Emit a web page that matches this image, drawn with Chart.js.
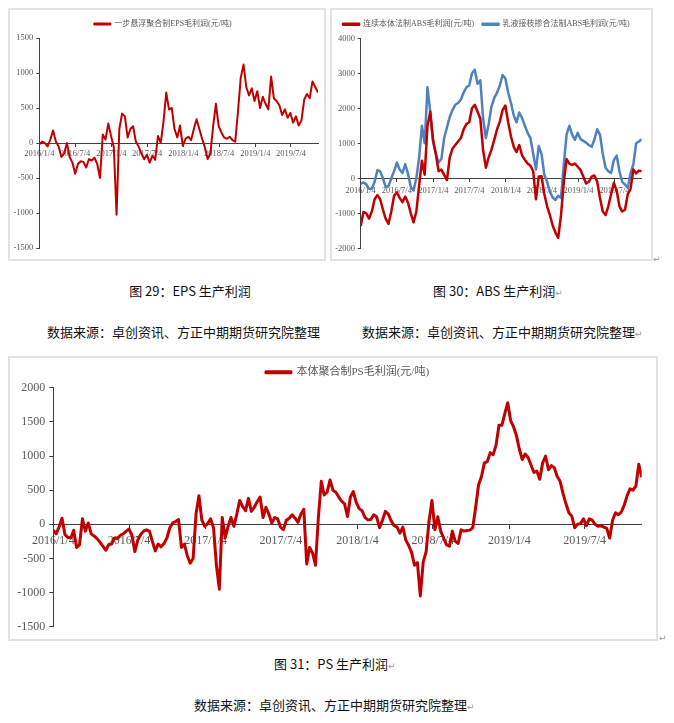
<!DOCTYPE html>
<html lang="zh-CN">
<head>
<meta charset="utf-8">
<title>EPS / ABS / PS 生产利润</title>
<script src="https://cdn.jsdelivr.net/npm/chart.js@4.4.1/dist/chart.umd.min.js"></script>
<style>
  html, body { margin: 0; padding: 0; background: #fff; }
  body { width: 674px; height: 723px; position: relative; overflow: hidden; font-family: 'Noto Sans CJK SC', sans-serif; color: #111; }
  .box { position: absolute; box-sizing: border-box; border: 2px solid #e2e2e2; }
  .chart { position: absolute; }
  .txt { position: absolute; font-size: 13px; line-height: 16px; white-space: nowrap; }
  .ret { color: #9a9a9a; font-size: 9px; font-family: 'DejaVu Sans', sans-serif; }
</style>
</head>
<body>

<div class="box" style="left:8px;top:8px;width:318px;height:253px"></div>
<div class="chart" style="left:8px;top:8px;width:317px;height:252px"><canvas id="epsChart"></canvas></div>

<div class="box" style="left:330px;top:8px;width:323px;height:253px"></div>
<div class="chart" style="left:331px;top:8px;width:321px;height:252px"><canvas id="absChart"></canvas></div>
<span class="txt ret" style="left:653px;top:251px">↵</span>

<div class="txt" style="left:90px;top:283px;width:200px;text-align:center">图 29：EPS 生产利润</div>
<div class="txt" style="left:433px;top:283px">图 30：ABS 生产利润<span class="ret">↵</span></div>
<div class="txt" style="left:47px;top:324px">数据来源：卓创资讯、方正中期期货研究院整理</div>
<div class="txt" style="left:362px;top:324px">数据来源：卓创资讯、方正中期期货研究院整理<span class="ret">↵</span></div>

<div class="box" style="left:8px;top:356px;width:650px;height:285px"></div>
<div class="chart" style="left:8px;top:356px;width:649px;height:284px"><canvas id="psChart"></canvas></div>
<span class="txt ret" style="left:659px;top:630px">↵</span>

<div class="txt" style="left:274px;top:656px">图 31：PS 生产利润<span class="ret">↵</span></div>
<div class="txt" style="left:194px;top:697px">数据来源：卓创资讯、方正中期期货研究院整理<span class="ret">↵</span></div>

<script>
// eixo x: datas dos rótulos (mesmos nos 3 gráficos)
const TICK_LABELS = ['2016/1/4', '2016/7/4', '2017/1/4', '2017/7/4', '2018/1/4', '2018/7/4', '2019/1/4', '2019/7/4'];
const START = '2016/1/4';
const LAST_DAY = 1414;

// EPS e ABS: um valor a cada 14 dias a partir de 2016/1/4
const STEP_14 = 14;
const epsProfit = [
  -20, 20, 0, -50, 50, 180, 20, -50, -200, -150, 0, -200, -280, -440, -300, -260, -270, -350, -230, -250,
  -210, -300, -500, 120, 50, 280, 100, -60, -1025, 200, 420, 380, 80, 200, 240, 20, -50, -150, -230, -170,
  -280, -180, -240, 100, 0, 300, 720, 480, 500, 200, 80, 250, -40, 60, 90, 40, 200, 340, 200, 60,
  -60, -230, -150, 240, 560, 240, 150, 80, 60, 90, 40, 20, 450, 930, 1120, 800, 680, 780, 600, 740,
  500, 660, 560, 480, 950, 640, 600, 540, 400, 480, 360, 430, 290, 380, 250, 320, 620, 700, 640, 880,
  800, 720
];
const absBulk = [
  -1360, -960, -1000, -1150, -950, -600, -480, -600, -900, -1160, -1300, -950, -500, -400, -560, -680, -520, -700, -1000, -1260,
  -950, -200, 500, 100, 1500, 1900, 1100, 700, 200, 250, 100, -50, 600, 850, 950, 1050, 1150, 1400, 1550, 1600,
  2000, 2100, 1900, 1700, 800, 300, 600, 820, 1100, 1400, 1620, 1950, 2080, 1600, 1200, 900, 750, 950, 650, 530,
  420, 360, 200, -600, 50, 60, -450, -800, -1050, -1350, -1550, -1700, -1050, -100, 550, 420, 380, 420, 330, 240,
  50, -150, -100, 50, 80, -100, -560, -950, -1050, -800, -450, -130, -350, -800, -950, -900, -450, -300, 250, 140,
  220, 200
];
const absEmulsion = [
  -150, -120, -170, -300, -300, -100, 230, 200, 0, -250, -220, 0, 200, 450, 250, 150, 400, 130, -250, -350,
  0, 600, 1500, 1000, 2600, 1900, 1050, 700, 450, 550, 1150, 1450, 1750, 1950, 2100, 2150, 2250, 2450, 2600, 2650,
  3000, 3100, 2700, 2800, 1700, 1150, 1550, 2050, 2300, 2450, 2650, 2950, 2850, 2450, 2150, 1800, 1600, 1880, 1720, 1500,
  1300, 1150, 700, 250, 920, 700, 100, -100, -380, -550, -620, -500, -560, 400, 1250, 1500, 1250, 1100, 1300, 1120,
  1070, 1020, 950, 900, 1100, 1400, 1250, 700, 300, 200, 150, 520, 650, 200, -100, -180, -270, 150, 400, 1000,
  1050, 1120
];

// PS: um valor por semana a partir de 2016/1/4
const STEP_7 = 7;
const psProfit = [
  -87, -140, -35, 90, -150, -190, -200, -87, -340, -300, 80, -100, 20, -140, -170, -210, -260, -320, -380, -300,
  -290, -200, -210, -160, -140, -100, -70, -160, -400, -230, -150, -100, -80, -100, -250, -390, -290, -330, -280, -200,
  -50, 20, 40, 70, -340, -290, -460, -570, -500, 150, 420, 60, -30, 10, 80, -50, -600, -950, 100, -200,
  -30, 100, -30, 150, 350, 260, 200, 380, 190, 250, 330, 400, 100, 250, 150, 20, 100, 80, -40, -80,
  60, 90, 140, 90, 30, 150, 220, -580, -340, -420, -600, 100, 630, 430, 470, 650, 500, 470, 400, 340,
  300, 115, 400, 480, 320, 230, 200, 100, 65, 70, 140, 110, -50, 60, 190, 150, 50, -20, -40, -130,
  -40, -230, -310, -410, -600, -560, -1050, -550, -400, 50, 350, -80, 110, -100, -200, -300, -320, -100, -250, -280,
  -80, -100, -90, -85, -50, 250, 580, 700, 900, 920, 1050, 1020, 1160, 1450, 1450, 1620, 1780, 1520, 1430, 1300,
  1100, 950, 1030, 980, 870, 760, 780, 660, 900, 1000, 800, 860, 830, 700, 630, 450, 300, 170, 120, -50,
  0, 10, 80, -20, 80, 60, 0, -30, -20, -40, -60, -200, 60, 170, 140, 180, 280, 420, 520, 500,
  560, 880, 690
];

const RED = '#c00000';
const BLUE = '#4f81bd';
const GRAY = '#595959';
const AXIS = '#404040';
const SERIF = "'Liberation Serif', 'Noto Sans CJK SC', serif";

function dayOf(label) {
  const [y, m, d] = label.split('/').map(Number);
  const [y0, m0, d0] = START.split('/').map(Number);
  return Math.round((Date.UTC(y, m - 1, d) - Date.UTC(y0, m0 - 1, d0)) / 86400000);
}
const TICK_DAYS = TICK_LABELS.map(dayOf);

function toPoints(values, step) {
  return values.map((v, i) => ({ x: i * step, y: v }));
}

function lineSet(label, values, step, color, width) {
  return {
    label, data: toPoints(values, step),
    borderColor: color, backgroundColor: color, borderWidth: width,
    pointRadius: 0, tension: 0, borderJoinStyle: 'round'
  };
}

function buildOptions(c) {
  return {
    responsive: true,
    maintainAspectRatio: false,
    animation: false,
    events: [],
    layout: { padding: { top: c.padTop, right: c.padRight, bottom: c.padBottom, left: 0 } },
    plugins: {
      legend: {
        position: 'top',
        fullSize: c.legendFull !== false,
        labels: { color: GRAY, font: { family: SERIF, size: c.legendSize }, boxWidth: c.boxWidth, boxHeight: 1, padding: c.legendPad }
      },
      tooltip: { enabled: false }
    },
    scales: {
      x: {
        type: 'linear', min: 0, max: LAST_DAY,
        position: { y: 0 },
        afterBuildTicks: ax => { ax.ticks = TICK_DAYS.map(v => ({ value: v })); },
        ticks: {
          autoSkip: false, maxRotation: 0, color: GRAY, padding: c.xPad,
          font: { family: SERIF, size: c.tickSize },
          callback: v => TICK_LABELS[TICK_DAYS.indexOf(v)]
        },
        grid: { drawOnChartArea: false, color: AXIS, tickLength: c.tickLen },
        border: { color: AXIS }
      },
      y: {
        min: c.yMin, max: c.yMax,
        afterFit: ax => { ax.width = c.yWidth; },
        ticks: { stepSize: c.yStep, color: GRAY, padding: c.yPad, font: { family: SERIF, size: c.tickSize }, callback: v => String(v) },
        grid: { drawOnChartArea: false, color: AXIS, tickLength: c.tickLen },
        border: { color: AXIS }
      }
    }
  };
}

// Gráfico 29: EPS
new Chart(document.getElementById('epsChart'), {
  type: 'line',
  data: { datasets: [lineSet('一步悬浮聚合制EPS毛利润(元/吨)', epsProfit, STEP_14, RED, 2)] },
  options: buildOptions({
    padTop: 5, padRight: 7, padBottom: 12, legendSize: 8, legendPad: 7, boxWidth: 16,
    tickSize: 8.5, tickLen: 3, xPad: 3, yPad: 3, yWidth: 31.3, yMin: -1500, yMax: 1500, yStep: 500
  })
});

// Gráfico 30: ABS
new Chart(document.getElementById('absChart'), {
  type: 'line',
  data: {
    datasets: [
      lineSet('连续本体法制ABS毛利润(元/吨)', absBulk, STEP_14, RED, 2.5),
      lineSet('乳液接枝掺合法制ABS毛利润(元/吨)', absEmulsion, STEP_14, BLUE, 2.5)
    ]
  },
  options: buildOptions({
    padTop: 3.9, padRight: 10.3, padBottom: 11.7, legendSize: 8, legendPad: 8.4, boxWidth: 16,
    tickSize: 8.5, tickLen: 3, xPad: 4.5, yPad: 2.7, yWidth: 29.7, yMin: -2000, yMax: 4000, yStep: 1000
  })
});

// Gráfico 31: PS (legenda centrada sobre a área do gráfico)
new Chart(document.getElementById('psChart'), {
  type: 'line',
  data: { datasets: [lineSet('本体聚合制PS毛利润(元/吨)', psProfit, STEP_7, RED, 3)] },
  options: buildOptions({
    padTop: 0.3, padRight: 15.3, padBottom: 13.3, legendSize: 11, legendPad: 10.5, boxWidth: 25, legendFull: false,
    tickSize: 12, tickLen: 4, xPad: 5.5, yPad: 4, yWidth: 45.3, yMin: -1500, yMax: 2000, yStep: 500
  })
});
</script>
</body>
</html>
